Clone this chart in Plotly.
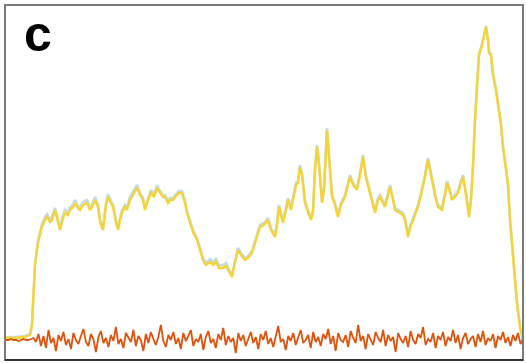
import numpy as np
import plotly.graph_objects as go

# Sample times for the two fluorescence traces (arbitrary units)
signal_t = [
    0, 9, 19, 24, 26, 27, 29, 32, 36, 39,
    41, 44, 46, 49, 52, 54, 57, 59, 62, 64,
    67, 69, 72, 74, 77, 81, 84, 86, 89, 92,
    94, 97, 100, 102, 105, 107, 110, 112, 114, 116,
    119, 121, 124, 127, 131, 134, 137, 139, 142, 145,
    148, 151, 154, 157, 159, 162, 164, 167, 170, 173,
    176, 179, 181, 184, 187, 191, 194, 197, 200, 204,
    207, 210, 213, 217, 220, 223, 226, 229, 232, 235,
    239, 242, 246, 250, 254, 258, 262, 265, 269, 271,
    273, 275, 277, 280, 282, 285, 288, 290, 292, 294,
    296, 299, 302, 305, 307, 309, 311, 313, 316, 318,
    321, 324, 326, 329, 332, 335, 339, 342, 344, 347,
    351, 354, 357, 360, 364, 367, 369, 372, 374, 377,
    379, 382, 384, 387, 389, 394, 397, 399, 402, 404,
    406, 409, 412, 415, 419, 422, 425, 427, 430, 432,
    436, 439, 441, 444, 446, 449, 452, 455, 457, 460,
    463, 465, 467, 469, 471, 473, 476, 478, 480, 482,
    483, 485, 487, 490, 492, 495, 497, 500, 502, 504,
    506, 508, 511, 514, 517,
]

# Yellow channel intensity
yellow_v = [
    22, 22, 23, 25, 35, 60, 95, 117, 133, 140,
    143, 138, 140, 150, 138, 130, 142, 147, 145, 150,
    153, 157, 152, 150, 155, 157, 150, 153, 160, 153,
    138, 130, 155, 163, 157, 153, 138, 130, 140, 147,
    153, 150, 160, 165, 172, 165, 160, 150, 160, 167,
    163, 172, 167, 163, 163, 157, 160, 160, 164, 167,
    167, 157, 147, 138, 128, 120, 110, 100, 95, 98,
    95, 98, 92, 92, 94, 88, 83, 98, 110, 105,
    100, 102, 107, 120, 133, 135, 140, 130, 123, 135,
    153, 145, 137, 150, 160, 150, 165, 175, 177, 193,
    185, 157, 148, 140, 148, 190, 213, 195, 157, 170,
    230, 190, 163, 155, 143, 155, 163, 175, 183, 175,
    170, 185, 203, 182, 165, 155, 147, 160, 163, 157,
    153, 165, 173, 160, 150, 147, 145, 140, 123, 132,
    137, 145, 153, 165, 183, 200, 185, 173, 160, 153,
    150, 165, 177, 168, 160, 163, 167, 177, 183, 165,
    143, 160, 193, 240, 280, 305, 315, 325, 333, 320,
    307, 305, 285, 270, 257, 235, 213, 190, 175, 140,
    115, 90, 57, 33, 20,
]

# Blue channel intensity (runs just above the yellow one)
blue_v = [
    23, 23, 24, 26, 36, 61, 96, 119, 136, 143,
    146, 140, 143, 152, 140, 132, 145, 150, 147, 153,
    155, 160, 154, 152, 158, 160, 152, 155, 163, 155,
    140, 132, 157, 166, 159, 155, 140, 132, 142, 150,
    155, 152, 163, 168, 175, 167, 162, 152, 162, 170,
    165, 175, 169, 165, 165, 159, 162, 162, 166, 169,
    169, 159, 149, 140, 130, 122, 112, 102, 97, 101,
    98, 101, 95, 95, 97, 90, 85, 100, 112, 107,
    102, 104, 109, 122, 135, 137, 142, 132, 125, 137,
    155, 147, 139, 152, 162, 152, 167, 177, 179, 195,
    187, 159, 150, 142, 150, 192, 215, 197, 159, 172,
    232, 192, 165, 157, 145, 157, 165, 177, 185, 177,
    172, 187, 205, 184, 167, 157, 149, 162, 165, 159,
    155, 167, 175, 162, 152, 149, 147, 142, 125, 134,
    139, 147, 155, 167, 185, 202, 187, 175, 162, 155,
    152, 167, 179, 170, 162, 165, 169, 179, 185, 167,
    145, 161, 194, 241, 281, 306, 316, 326, 334, 321,
    308, 306, 286, 271, 258, 236, 214, 191, 176, 141,
    116, 91, 58, 34, 21,
]

# Background (orange) channel intensity, sampled on a regular grid
background_v = [
    20, 20, 21, 20, 20, 19, 20, 21, 20, 20, 21, 22, 18, 26, 14, 24,
    12, 30, 17, 22, 9, 25, 19, 28, 15, 21, 11, 27, 20, 16, 24, 31,
    18, 14, 26, 21, 8, 23, 29, 17, 22, 13, 25, 19, 33, 16, 21, 12,
    27, 22, 18, 30, 14, 24, 20, 9, 26, 17, 28, 21, 15, 23, 35, 19,
    13, 25, 20, 28, 16, 22, 11, 27, 19, 24, 30, 14, 21, 18, 26, 10,
    23, 29, 17, 21, 12, 26, 20, 32, 15, 24, 18, 22, 7, 27, 19, 25,
    14, 21, 28, 17, 23, 11, 26, 20, 29, 16, 22, 13, 25, 34, 18, 21,
    10, 24, 19, 27, 15, 22, 30, 17, 20, 25, 12, 28, 18, 23, 14, 26,
    21, 31, 16, 24, 9, 27, 20, 18, 25, 13, 29, 22, 17, 35, 19, 24,
    11, 26, 20, 15, 28, 22, 18, 30, 14, 25, 19, 23, 8, 27, 21, 17,
    24, 13, 29, 20, 16, 26, 22, 33, 15, 21, 18, 27, 12, 24, 20, 28,
    14, 23, 19, 30, 17, 25, 11, 22, 27, 16, 21, 24, 13, 26, 18, 29,
    15, 22, 19, 26, 12, 24, 20, 28, 17, 23, 14, 25, 19, 27, 16, 21,
]
background_t = np.linspace(0, 517, len(background_v))

fig = go.Figure()

fig.add_trace(go.Scatter(
    x=signal_t, y=blue_v, mode="lines",
    line=dict(color="#c3dce8", width=2.6), hoverinfo="skip",
))
fig.add_trace(go.Scatter(
    x=signal_t, y=yellow_v, mode="lines",
    line=dict(color="#f7d435", width=2.4), hoverinfo="skip",
))
fig.add_trace(go.Scatter(
    x=background_t, y=background_v, mode="lines",
    line=dict(color="#e0530c", width=1.8), hoverinfo="skip",
))

# Panel letter
fig.add_annotation(
    x=32, y=326, xref="x", yref="y", text="<b>c</b>", showarrow=False,
    xanchor="center", yanchor="middle",
    font=dict(family="Liberation Sans, Arial", size=50, color="black"),
)

# Panel frame
fig.add_shape(type="rect", xref="paper", yref="paper", x0=0, y0=0, x1=1, y1=1,
              line=dict(color="#7a7a7a", width=2), layer="above")
fig.add_shape(type="line", xref="paper", yref="paper", x0=0, y0=0, x1=1, y1=0,
              line=dict(color="#333333", width=2), layer="above")

fig.update_xaxes(range=[-1, 517], visible=False, showgrid=False, zeroline=False)
fig.update_yaxes(range=[0, 355], visible=False, showgrid=False, zeroline=False)

fig.update_layout(
    width=526, height=363,
    margin=dict(l=5, r=3, t=5, b=3),
    paper_bgcolor="white", plot_bgcolor="white",
    showlegend=False,
)

fig.write_html("out.html")
